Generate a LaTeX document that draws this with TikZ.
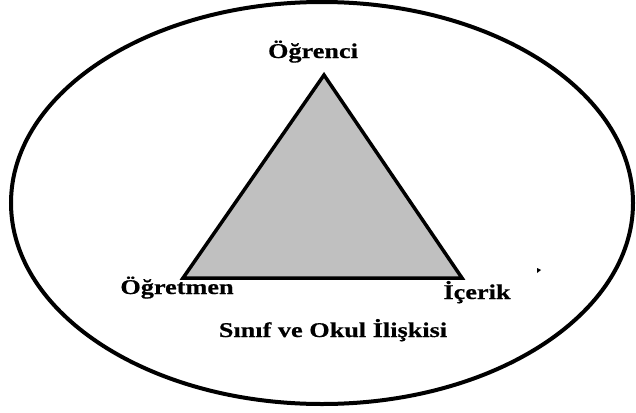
\documentclass[tikz,border=0pt]{standalone}
\usepackage{fontspec}
\setmainfont{Liberation Serif}[FakeStretch=1.25, BoldFeatures={FakeBold=0.6}]
\tikzset{
  lbl/.style={anchor=base, inner sep=0pt, font=\fontsize{21}{25}\selectfont\bfseries},
  tri/.style={draw, line width=3.5pt, line join=miter, fill={rgb,255:red,192;green,192;blue,192}}
}
\begin{document}
\begin{tikzpicture}[x=1pt, y=-1pt]
\useasboundingbox (0,0) rectangle (636,412);
\draw[line width=4pt] (322,203) ellipse [x radius=311, y radius=201];
\coordinate (top) at (324,75);
\coordinate (left) at (183,278);
\coordinate (right) at (462,278);
\draw[tri] (top) -- (left) -- (right) -- cycle;
\node[lbl] (ogrenci) at (313,58) {Öğrenci};
\node[lbl] (ogretmen) at (177,294) {Öğretmen};
\node[lbl] (icerik) at (477,299) {İçerik};
\node[lbl] (iliski) at (333,337) {Sınıf ve Okul İlişkisi};
\fill (537,268) -- (541,270) -- (537,273) -- cycle;
\end{tikzpicture}
\end{document}
